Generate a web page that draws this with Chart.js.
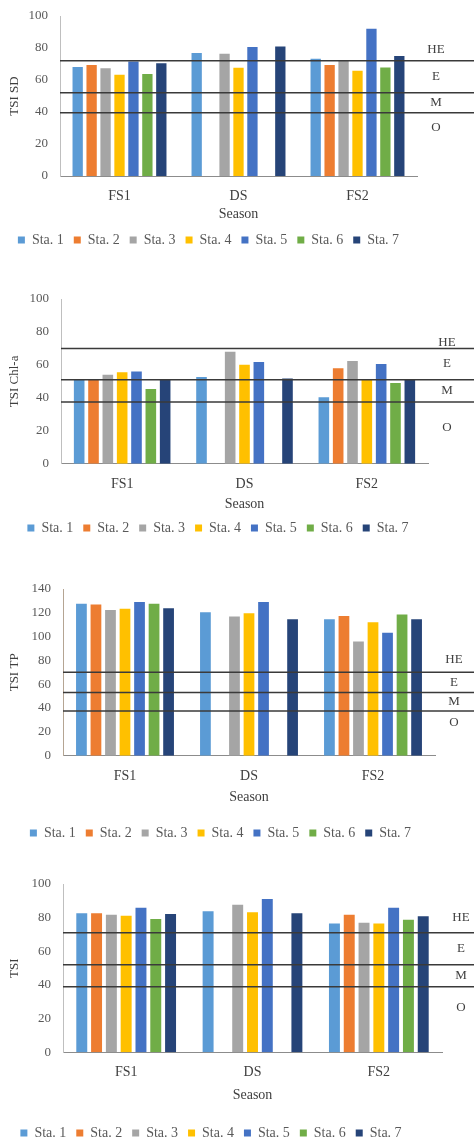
<!DOCTYPE html>
<html>
<head>
<meta charset="utf-8">
<script src="https://cdn.jsdelivr.net/npm/chart.js@4.4.1/dist/chart.umd.min.js"></script>
<style>
  html, body { margin: 0; padding: 0; background: #fff; }
  body { width: 474px; height: 1139px; position: relative; overflow: hidden; }
  canvas { position: absolute; left: 0; }
</style>
</head>
<body>
<canvas id="chartSD"></canvas>
<canvas id="chartChl"></canvas>
<canvas id="chartTP"></canvas>
<canvas id="chartTSI"></canvas>
<script>
const seasons = ["FS1", "DS", "FS2"];
const stations = ["Sta. 1", "Sta. 2", "Sta. 3", "Sta. 4", "Sta. 5", "Sta. 6", "Sta. 7"];
const stationColors = ["#5b9bd5", "#ed7d31", "#a5a5a5", "#ffc000", "#4472c4", "#70ad47", "#264478"];
const zoneLabels = ["HE", "E", "M", "O"];

// TSI SD, one value per station
const sdFS1 = [68.1, 69.3, 67.4, 63.3, 71.6, 63.7, 70.4];
const sdDS = [76.8, null, 76.4, 67.6, 80.6, null, 81.0];
const sdFS2 = [73.3, 69.3, 71.8, 65.8, 92.0, 67.8, 75.0];
const sdLines = [72, 52, 39.5];

// TSI Chl-a
const chlFS1 = [51.2, 51.2, 54.0, 55.5, 56.0, 45.3, 51.2];
const chlDS = [52.6, null, 68.0, 60.1, 61.7, null, 51.8];
const chlFS2 = [40.3, 57.9, 62.3, 51.4, 60.5, 49.0, 51.2];
const chlLines = [70, 51, 37.5];

// TSI TP
const tpFS1 = [127.7, 126.9, 122.4, 123.5, 129.1, 127.7, 123.8];
const tpDS = [120.4, null, 116.8, 119.6, 129.1, null, 114.5];
const tpFS2 = [114.5, 117.3, 96.0, 112.0, 103.3, 118.5, 114.5];
const tpLines = [70, 53, 37.5];

// overall TSI
const tsiFS1 = [82.6, 82.6, 81.8, 81.2, 85.9, 79.2, 82.2];
const tsiDS = [83.8, null, 87.7, 83.2, 91.1, null, 82.6];
const tsiFS2 = [76.6, 81.8, 77.0, 76.6, 85.9, 78.8, 80.8];
const tsiLines = [71, 52, 39];

const serif = "'Liberation Serif', 'Times New Roman', serif";

// horizontal class lines and their HE / E / M / O labels
const zoneLines = {
    id: "zoneLines",
    afterLayout(chart, args, opts) {
        // nudge the legend sideways like in the original figure
        if (opts.legendShift) {
            chart.legend.left += opts.legendShift;
            chart.legend.right += opts.legendShift;
        }
    },
    afterDatasetsDraw(chart, args, opts) {
        const { ctx, chartArea } = chart;
        const y = chart.scales.y;
        const ys = opts.lines.map((v) => y.getPixelForValue(v));
        ctx.save();
        ctx.strokeStyle = "#3a3a3a";
        ctx.lineWidth = 1.5;
        ys.forEach((py) => {
            ctx.beginPath();
            ctx.moveTo(chartArea.left, py);
            ctx.lineTo(chart.width, py);
            ctx.stroke();
        });
        ctx.fillStyle = "#404040";
        ctx.font = "13px " + serif;
        ctx.textAlign = "center";
        ctx.textBaseline = "middle";
        const lx = chartArea.right + 19;
        const ly = [ys[0] + opts.heOffset, (ys[0] + ys[1]) / 2, (ys[1] + ys[2]) / 2, ys[2] + opts.oOffset];
        zoneLabels.forEach((t, i) => ctx.fillText(t, lx, ly[i]));
        ctx.restore();
    },
};

// box: plot area edges on the page, height of the x axis block, title paddings
function buildChart(canvasId, yTitle, fs1, ds, fs2, lines, yMax, box) {
    const canvas = document.getElementById(canvasId);
    const padTop = 20;
    canvas.width = 474;
    canvas.height = Math.round(padTop + (box.bottom - box.top) + box.xHeight + 34);
    canvas.style.top = (box.top - padTop) + "px";

    const datasets = stations.map((name, i) => ({
        label: name,
        data: [fs1[i], ds[i], fs2[i]],
        backgroundColor: stationColors[i],
        barPercentage: 0.74,
        categoryPercentage: 0.82,
    }));

    return new Chart(canvas, {
        type: "bar",
        data: { labels: seasons, datasets },
        options: {
            responsive: false,
            animation: false,
            layout: { padding: { top: padTop, right: 474 - box.right, left: 0, bottom: 0 } },
            plugins: {
                legend: {
                    position: "bottom",
                    labels: {
                        boxWidth: 7,
                        boxHeight: 7,
                        padding: 10,
                        color: "#595959",
                        font: { family: serif, size: 14 },
                    },
                },
                tooltip: { enabled: false },
                zoneLines: { lines, heOffset: box.heOffset, oOffset: box.oOffset, legendShift: box.legendShift },
            },
            scales: {
                x: {
                    grid: { display: false, drawTicks: false },
                    border: { color: "#8c8c8c", width: 1 },
                    ticks: { color: "#404040", padding: 12, font: { family: serif, size: 14 } },
                    title: {
                        display: true,
                        text: "Season",
                        color: "#404040",
                        font: { family: serif, size: 14 },
                        padding: { top: box.titleTop, bottom: box.titleBottom },
                    },
                },
                y: {
                    min: 0,
                    max: yMax,
                    afterFit: (s) => { s.width = box.left; },
                    grid: { display: false, drawTicks: false },
                    border: { color: box.yColor, width: 1 },
                    ticks: { stepSize: 20, color: "#595959", padding: 12, font: { family: serif, size: 13 } },
                    title: {
                        display: true,
                        text: yTitle,
                        color: "#404040",
                        font: { family: serif, size: 13 },
                        padding: { top: 7, bottom: 0 },
                    },
                },
            },
        },
        plugins: [zoneLines],
    });
}

buildChart("chartSD", "TSI SD", sdFS1, sdDS, sdFS2, sdLines, 100, {
    top: 16, bottom: 176, left: 60, right: 417, xHeight: 47, titleTop: -10.6, titleBottom: 0,
    yColor: "#bfbfbf", heOffset: -11, oOffset: 15, legendShift: 0,
});
buildChart("chartChl", "TSI Chl-a", chlFS1, chlDS, chlFS2, chlLines, 100, {
    top: 299, bottom: 463.7, left: 61, right: 428, xHeight: 47.3, titleTop: -8.9, titleBottom: -1.4,
    yColor: "#bfbfbf", heOffset: -6, oOffset: 26, legendShift: 4,
});
buildChart("chartTP", "TSI TP", tpFS1, tpDS, tpFS2, tpLines, 140, {
    top: 589, bottom: 755.7, left: 63, right: 435, xHeight: 60.3, titleTop: -7.9, titleBottom: 10.6,
    yColor: "#b5a593", heOffset: -13, oOffset: 12, legendShift: 3,
});
buildChart("chartTSI", "TSI", tsiFS1, tsiDS, tsiFS2, tsiLines, 100, {
    top: 884, bottom: 1052.3, left: 63, right: 442, xHeight: 63.7, titleTop: -6.5, titleBottom: 12.6,
    yColor: "#bfbfbf", heOffset: -15, oOffset: 21, legendShift: -10,
});
</script>
</body>
</html>
